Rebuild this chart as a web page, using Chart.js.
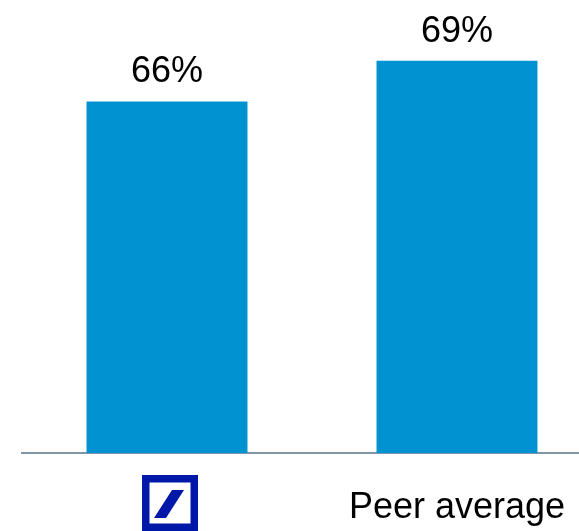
<!DOCTYPE html>
<html>
<head>
<meta charset="utf-8">
<script src="https://cdn.jsdelivr.net/npm/chart.js@4/dist/chart.umd.min.js"></script>
<style>
  html, body { margin: 0; padding: 0; overflow: hidden; background: #fff; }
  canvas { display: block; }
</style>
</head>
<body>
<canvas id="myChart" width="602" height="531"></canvas>
<script>
// categories and values
var categories = ['Deutsche Bank', 'Peer average'];
var values = [66, 69];
var valueLabels = ['66%', '69%'];

var barColor = '#0092d1';
var dbBlue = '#0018a8';

// draws the % labels over the bars and the DB logo in place of the first tick
var overlay = {
    id: 'overlay',
    afterDatasetsDraw: function (chart) {
        var ctx = chart.ctx;
        var meta = chart.getDatasetMeta(0);
        ctx.save();
        ctx.font = '36px "Liberation Sans", Arial, sans-serif';
        ctx.fillStyle = '#000';
        ctx.textAlign = 'center';
        ctx.textBaseline = 'alphabetic';
        meta.data.forEach(function (bar, i) {
            ctx.fillText(valueLabels[i], bar.x, bar.y - 19);
        });

        // logo
        var x = chart.scales.x.getPixelForValue(0) + 3;
        var s = 56;
        var left = x - s / 2;
        var top = 475;
        ctx.fillStyle = dbBlue;
        ctx.fillRect(left, top, s, s);
        ctx.fillStyle = '#fff';
        ctx.fillRect(left + 7.5, top + 7.5, s - 15, s - 15);
        ctx.fillStyle = dbBlue;
        ctx.beginPath();
        ctx.moveTo(left + 30, top + 15);
        ctx.lineTo(left + 42, top + 15);
        ctx.lineTo(left + 24, top + 43);
        ctx.lineTo(left + 12, top + 43);
        ctx.closePath();
        ctx.fill();
        ctx.restore();
    }
};

var ctx = document.getElementById('myChart').getContext('2d');
var chart = new Chart(ctx, {
    type: 'bar',
    data: {
        labels: categories,
        datasets: [{
            data: values,
            backgroundColor: barColor,
            borderWidth: 0,
            barPercentage: 0.555,
            categoryPercentage: 1
        }]
    },
    options: {
        responsive: false,
        animation: false,
        layout: {
            padding: { left: 22, right: 0, top: 0, bottom: 2 }
        },
        plugins: {
            legend: { display: false },
            tooltip: { enabled: false }
        },
        scales: {
            x: {
                grid: { display: false, drawTicks: false },
                border: { display: true, color: '#7f96a8', width: 2 },
                afterFit: function (scale) {
                    scale.height = 76;
                },
                ticks: {
                    padding: 33,
                    color: '#000',
                    font: { family: '"Liberation Sans", Arial, sans-serif', size: 36 },
                    callback: function (v, i) {
                        return i === 0 ? '' : categories[i];
                    }
                }
            },
            y: {
                display: false,
                min: 40,
                max: 73.5
            }
        }
    },
    plugins: [overlay]
});
</script>
</body>
</html>
